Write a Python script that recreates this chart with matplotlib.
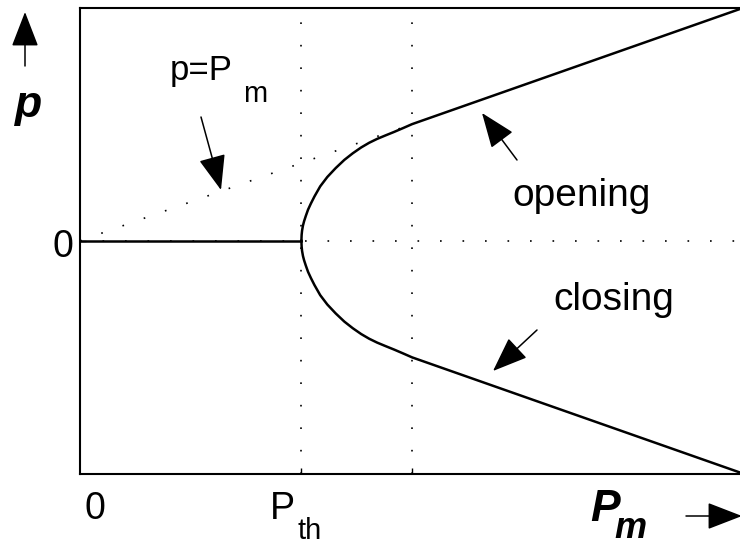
import numpy as np
import matplotlib
matplotlib.use('Agg')
import matplotlib.pyplot as plt
from matplotlib.patches import FancyArrowPatch
from matplotlib.transforms import Affine2D

plt.rcParams['font.family'] = ['Liberation Sans', 'DejaVu Sans']

# threshold and the point where the branches join p = +/- Pm
P_th = 1.0
P_join = 1.5

# p = Pm reference line (dotted)
ref_pm = [0.0, 1.5]
ref_p = [0.0, 1.5]

# below threshold: p = 0
flat_pm = [0.0, 1.0]
flat_p = [0.0, 0.0]

# upper branch (opening); the lower branch (closing) is its mirror
branch_pm = [1.0, 1.001, 1.003, 1.007, 1.012, 1.02, 1.03, 1.043, 1.059, 1.085, 1.117,
             1.155, 1.194, 1.232, 1.27, 1.306, 1.342, 1.38, 1.419, 1.46, 1.5, 3.0]
branch_p = [0.0, 0.075, 0.13, 0.195, 0.25, 0.32, 0.40, 0.48, 0.57, 0.70, 0.82,
            0.935, 1.04, 1.125, 1.20, 1.26, 1.31, 1.355, 1.40, 1.45, 1.5, 3.0]

W, H = 740, 546
fig = plt.figure(figsize=(W/100, H/100), dpi=100)
ax = fig.add_axes([80/W, (H-474)/H, 662/W, (474-7.5)/H])

dots = (0, (1, 12.5))
ax.axvline(P_th, color='k', lw=1.2, ls=dots)
ax.axvline(P_join, color='k', lw=1.2, ls=dots)
ax.axhline(0, color='k', lw=1.2, ls=dots)
ax.plot(ref_pm, ref_p, color='k', lw=1.2, ls=dots)

ax.plot(flat_pm, flat_p, color='k', lw=1.8)
ax.plot(branch_pm, branch_p, color='k', lw=1.8, solid_joinstyle='round')
ax.plot(branch_pm, -np.array(branch_p), color='k', lw=1.8, solid_joinstyle='round')

ax.set_xlim(0, 2.99)
ax.set_ylim(-3, 3)
ax.set_xticks([P_th, P_join])
ax.set_yticks([0])
ax.tick_params(direction='in', length=4, width=1, labelbottom=False, labelleft=False)
for side in ['left', 'bottom', 'top']:
    ax.spines[side].set_linewidth(1.5)
ax.spines['right'].set_visible(False)

# pixel coordinates, y measured from the top
pix = Affine2D().scale(1, -1).translate(0, H)

def label(x, y, s, size, **kw):
    fig.text(x, y, s, transform=pix, fontsize=size, ha='left', va='baseline', **kw)

label(52, 257, '0', 27)
label(84, 519, '0', 27)
label(270, 519, 'P', 27)
label(298, 539, 'th', 21)
label(170, 80, 'p=P', 25)
label(243, 102, 'm', 21)
label(512, 206, 'opening', 28)
label(553, 310, 'closing', 28)
label(15, 117, 'p', 32, fontweight='bold', fontstyle='italic')
label(590, 521, 'P', 32, fontweight='bold', fontstyle='italic')
label(614, 538, 'm', 26, fontweight='bold', fontstyle='italic')

arrows = [((25, 66), (25, 12)),
          ((686, 516), (742, 516)),
          ((201, 117), (221, 190)),
          ((517, 160), (482, 113)),
          ((537, 330), (493, 371))]
for tail, tip in arrows:
    fig.patches.append(FancyArrowPatch(tail, tip, transform=pix,
                                       arrowstyle='-|>,head_length=2.2,head_width=0.85',
                                       mutation_scale=10, lw=1.1, color='k',
                                       shrinkA=0, shrinkB=0))

fig.savefig('out.png', dpi=100)
